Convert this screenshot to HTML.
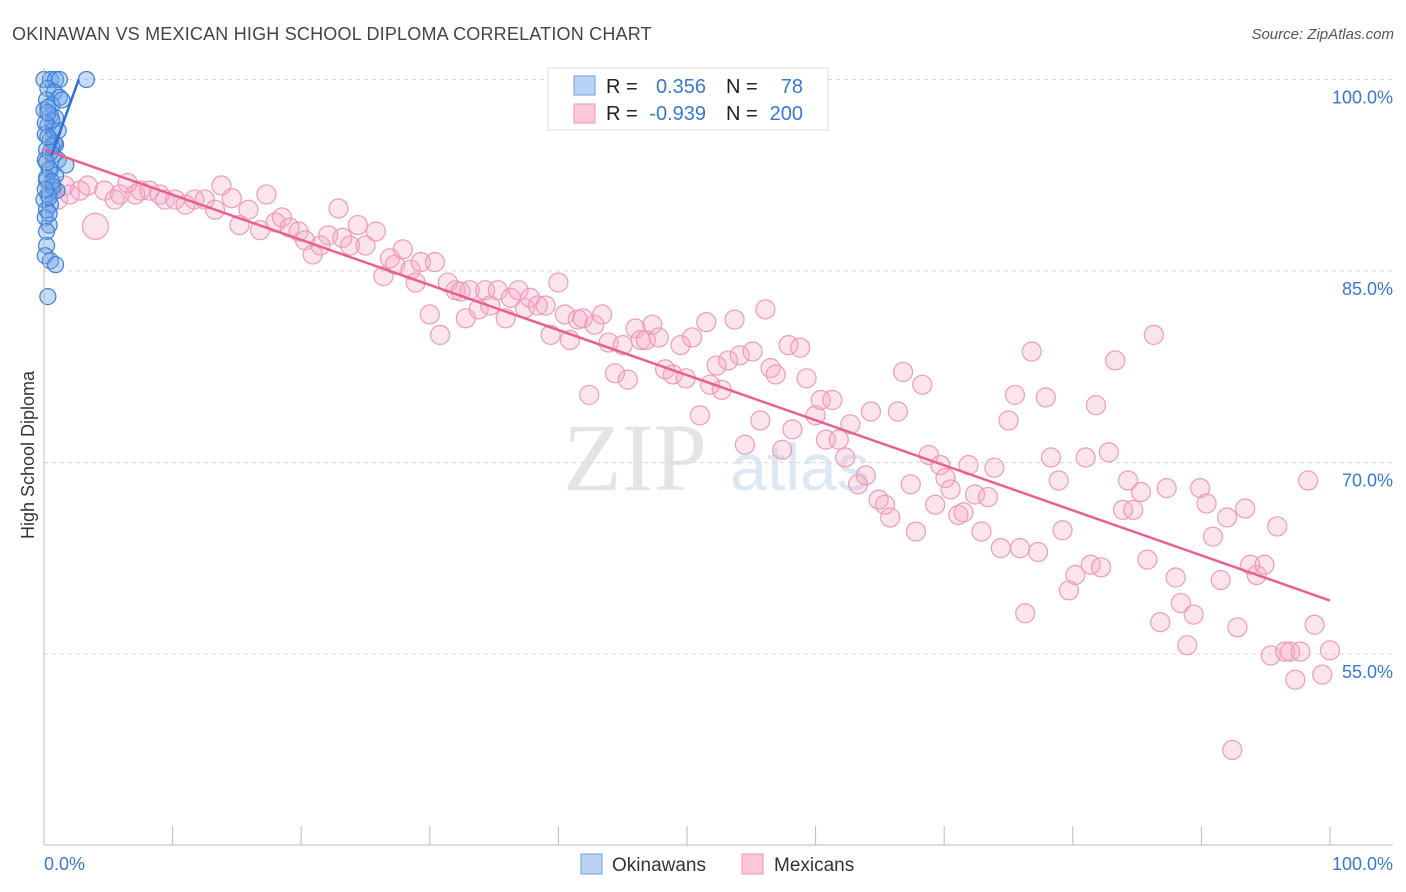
<!DOCTYPE html>
<html><head><meta charset="utf-8"><style>
body{margin:0;background:#fff;font-family:"Liberation Sans",sans-serif;}
#wrap{position:relative;width:1406px;height:892px;overflow:hidden;}
</style></head><body>
<div id="wrap">
<svg id="chart" width="1406" height="892">
<text x="12" y="40" font-size="18" fill="#444" letter-spacing="0.2">OKINAWAN VS MEXICAN HIGH SCHOOL DIPLOMA CORRELATION CHART</text>
<text x="1394" y="39" font-size="15" fill="#555" font-style="italic" text-anchor="end">Source: ZipAtlas.com</text>
<text x="635" y="490" font-size="96" fill="#e4e4e4" font-family="Liberation Serif" text-anchor="middle">ZIP</text>
<text x="800" y="490" font-size="66" fill="#dce8f6" text-anchor="middle">atlas</text>
<text transform="translate(34,455) rotate(-90)" font-size="18" fill="#333" text-anchor="middle">High School Diploma</text>
<g id="grid"></g><g id="pts"></g><g id="lines"></g>
<line x1="44" y1="68" x2="44" y2="845" stroke="#bbb"/>
<line x1="44" y1="845" x2="1393" y2="845" stroke="#bbb"/>
<text x="44" y="870" font-size="18" fill="#3a78d0">0.0%</text>
<text x="1393" y="870" font-size="18" fill="#3a78d0" text-anchor="end">100.0%</text>
<g>
<rect x="548" y="68" width="280" height="62" fill="#fff" stroke="#ddd"/>
<rect x="574" y="76" width="21" height="19" fill="#b9d3f5" stroke="#6a9ee0"/>
<rect x="574" y="104" width="21" height="19" fill="#fcc8d7" stroke="#ee93b0"/>
<text x="606" y="93" font-size="20" fill="#222">R =</text>
<text x="706" y="93" font-size="20" fill="#3a78d0" text-anchor="end">0.356</text>
<text x="726" y="93" font-size="20" fill="#222">N =</text>
<text x="803" y="93" font-size="20" fill="#3a78d0" text-anchor="end">78</text>
<text x="606" y="120" font-size="20" fill="#222">R =</text>
<text x="706" y="120" font-size="20" fill="#3a78d0" text-anchor="end">-0.939</text>
<text x="726" y="120" font-size="20" fill="#222">N =</text>
<text x="803" y="120" font-size="20" fill="#3a78d0" text-anchor="end">200</text>
</g>
<g>
<rect x="581" y="854" width="21" height="20" fill="#b9d3f5" stroke="#6a9ee0"/>
<text x="612" y="871" font-size="19" fill="#333">Okinawans</text>
<rect x="742" y="854" width="21" height="20" fill="#fcc8d7" stroke="#ee93b0"/>
<text x="774" y="871" font-size="19" fill="#333">Mexicans</text>
</g>
</svg>
</div>
<script>
const yTicks=[100,85,70,55];
const yTickLabels=["100.0%","85.0%","70.0%","55.0%"];
const xTicks=[10,20,30,40,50,60,70,80,90,100];
const mexX=[0.6,1.1,1.6,2.0,2.8,3.4,4.0,4.7,5.5,5.9,6.5,7.1,7.5,8.2,9.0,9.4,10.2,11.0,11.7,12.5,13.3,13.8,14.6,15.2,15.9,16.8,17.3,18.0,18.5,19.1,19.8,20.3,20.9,21.5,22.1,22.9,23.2,23.8,24.4,25.0,25.8,26.4,26.9,27.3,27.9,28.5,28.9,29.3,30.0,30.4,30.8,31.4,32.0,32.4,32.8,33.1,33.8,34.3,34.7,35.3,35.9,36.3,36.9,37.4,37.8,38.4,39.0,39.4,40.0,40.5,40.9,41.5,41.9,42.4,42.8,43.4,43.9,44.4,45.0,45.4,46.0,46.4,46.8,47.3,47.8,48.3,48.9,49.5,49.9,50.4,51.0,51.5,51.8,52.3,52.7,53.2,53.7,54.1,54.5,55.1,55.7,56.1,56.5,56.9,57.4,57.9,58.2,58.8,59.3,60.0,60.4,60.8,61.3,61.8,62.3,62.7,63.3,63.9,64.3,64.9,65.4,65.8,66.4,66.8,67.4,67.8,68.3,68.8,69.3,69.7,70.1,70.5,71.1,71.5,71.9,72.4,72.9,73.4,73.9,74.4,75.0,75.5,75.9,76.3,76.8,77.3,77.9,78.3,78.9,79.2,79.7,80.2,81.0,81.4,81.8,82.2,82.8,83.3,83.9,84.3,84.7,85.3,85.8,86.3,86.8,87.3,88.0,88.4,88.9,89.4,89.9,90.4,90.9,91.5,92.0,92.4,92.8,93.4,93.8,94.3,94.9,95.4,95.9,96.5,96.9,97.3,97.7,98.3,98.8,99.4,100];
const mexY=[91.3,90.6,91.7,91.0,91.3,91.7,88.5,91.3,90.6,91.0,91.9,91.0,91.3,91.3,91.0,90.6,90.6,90.2,90.6,90.6,89.8,91.7,90.7,88.6,89.8,88.2,91.0,88.8,89.2,88.4,88.1,87.4,86.3,87.0,87.8,89.9,87.6,87.0,88.6,87.0,88.1,84.6,86.0,85.5,86.7,85.1,84.1,85.7,81.6,85.7,80.0,84.1,83.5,83.4,81.3,83.5,82.0,83.5,82.3,83.5,81.3,82.9,83.5,82.1,82.9,82.3,82.3,80.0,84.1,81.6,79.6,81.2,81.3,75.3,80.8,81.6,79.4,77.0,79.2,76.5,80.5,79.6,79.6,80.8,79.8,77.3,76.9,79.2,76.6,79.8,73.7,81.0,76.1,77.6,75.7,78.0,81.2,78.4,71.4,78.7,73.3,82.0,77.4,76.9,71.0,79.2,72.6,79.0,76.6,73.7,74.9,71.8,74.9,71.8,70.4,73.0,68.3,69.0,74.0,67.1,66.7,65.7,74.0,77.1,68.3,64.6,76.1,70.6,66.7,69.8,68.8,67.9,65.9,66.1,69.8,67.5,64.6,67.3,69.6,63.3,73.3,75.3,63.3,58.2,78.7,63.0,75.1,70.4,68.6,64.7,60.0,61.2,70.4,62.0,74.5,61.8,70.8,78.0,66.3,68.6,66.3,67.7,62.4,80.0,57.5,68.0,61.0,59.0,55.7,58.1,68.0,66.8,64.2,60.8,65.7,47.5,57.1,66.4,62.0,61.2,62.0,54.9,65.0,55.2,55.2,53.0,55.2,68.6,57.3,53.4,55.3];
const okiX=[0,0.5,0.9,1.2,3.3,0.3,0.8,1.2,0.2,0.6,0,0.5,0.9,0.3,0.7,0.1,0.5,0.9,0.2,0.7,1.1,0.1,1.7,0.5,0.9,0.2,0.6,1.0,0.3,0,0.5,0.2,0.1,0.4,0.2,0.2,0.1,0.5,0.9,0.3,1.4,1.1,0.6,0.4,0.8,0.3,0.6,0.2,0.7,0.4,0.1,0.3,0.5,0.2,0.6,0.1,0.4,0.3];
const okiY=[100,100,100,100,100,99.3,99.0,98.6,98.4,98.0,97.6,97.2,97.0,96.4,96.0,95.7,95.3,94.9,94.5,94.1,93.7,93.7,93.3,92.9,92.5,92.1,91.7,91.3,91.0,90.6,90.2,89.8,89.2,88.6,88.1,87.0,86.2,85.8,85.5,83.0,98.4,96.0,96.8,93.0,95.0,97.8,94.8,92.3,91.6,90.8,96.6,95.5,94.3,93.5,92.0,91.4,89.5,97.4];
const mexFit=[94.5,59.2];
const okiFit=[[0.6,94.1],[2.7,100]];
const NS="http://www.w3.org/2000/svg";
function sx(v){return 44+v*12.86;}
function sy(v){return 79.5+(100-v)*12.77;}
function mk(t,a){const e=document.createElementNS(NS,t);for(const k in a)e.setAttribute(k,a[k]);return e;}
const grid=document.getElementById('grid'),pts=document.getElementById('pts'),lines=document.getElementById('lines');
yTicks.forEach((v,i)=>{
 const l=mk('line',{x1:44,x2:1393,y1:sy(v),y2:sy(v),stroke:'#d8d8d8','stroke-dasharray':'4,4'});
 
 
 grid.appendChild(l);
 const t=mk('text',{x:1393,y:sy(v)+24,'font-size':18,fill:'#3a78d0','text-anchor':'end'});
 t.textContent=yTickLabels[i];
 
 
 grid.appendChild(t);
});
xTicks.forEach(v=>{
 const l=mk('line',{x1:sx(v),x2:sx(v),y1:826,y2:845,stroke:'#bbb'});
 
 
 grid.appendChild(l);
});
mexX.forEach((x,i)=>{
 const c=mk('circle',{cx:sx(x),cy:sy(mexY[i]),r:(i==6?13:9.5),fill:'rgba(246,165,195,0.3)',stroke:'#f09ab8','stroke-width':1.2});
 
 
 pts.appendChild(c);
});
okiX.forEach((x,i)=>{
 const c=mk('circle',{cx:sx(x),cy:sy(okiY[i]),r:8,fill:'rgba(110,165,235,0.4)',stroke:'#3f7fd8','stroke-width':1.2});
 
 
 pts.appendChild(c);
});
const ml=mk('line',{x1:sx(0),y1:sy(mexFit[0]),x2:sx(100),y2:sy(mexFit[1]),stroke:'#e8608e','stroke-width':2.5});


lines.appendChild(ml);
const ol=mk('line',{x1:sx(okiFit[0][0]),y1:sy(okiFit[0][1]),x2:sx(okiFit[1][0]),y2:sy(okiFit[1][1]),stroke:'#2f6fd0','stroke-width':2.5});


lines.appendChild(ol);
</script>
</body></html>
